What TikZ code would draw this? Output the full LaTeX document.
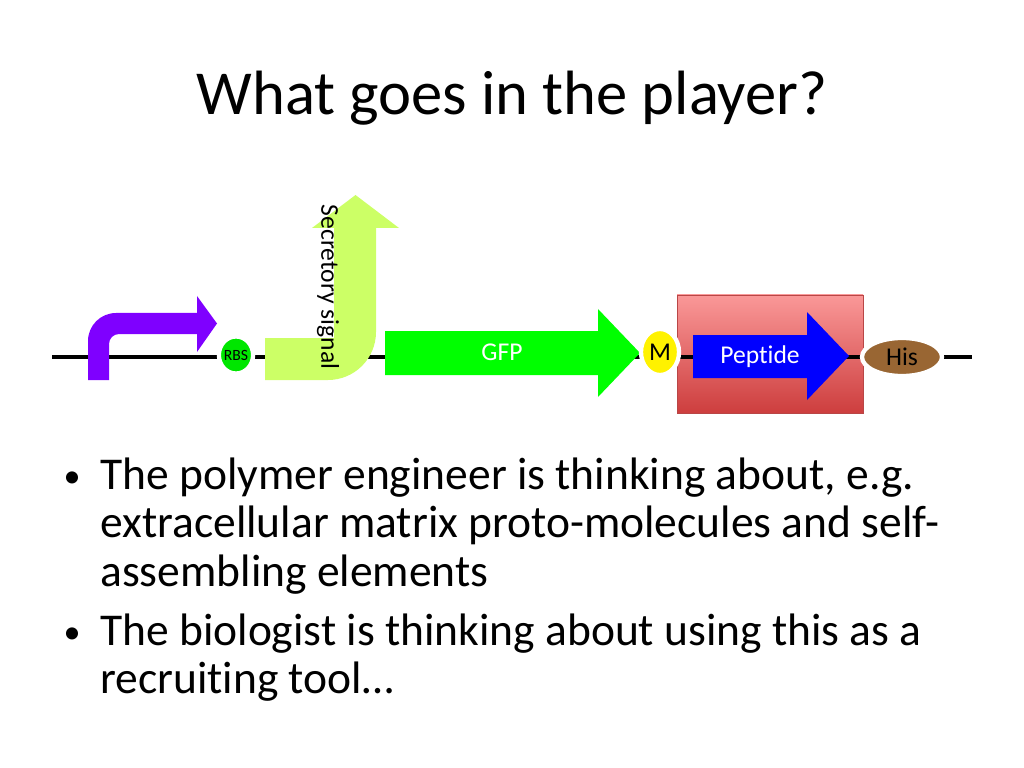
\documentclass[tikz,border=0pt]{standalone}
\usepackage{fontspec}
\setmainfont{Carlito}[Ligatures=NoCommon]
\usetikzlibrary{shapes.geometric}

\definecolor{promoterpurple}{RGB}{127,0,255}
\definecolor{rbsgreen}{RGB}{0,230,0}
\definecolor{signalgreen}{RGB}{204,255,102}
\definecolor{gfpgreen}{RGB}{0,255,0}
\definecolor{boxtop}{RGB}{250,152,152}
\definecolor{boxbottom}{RGB}{205,62,62}
\definecolor{boxedge}{RGB}{185,70,70}
\definecolor{hisbrown}{RGB}{153,102,51}

\tikzstyle{backbone} = [draw,line width=2.8pt,-]
\tikzstyle{partlabel} = [font=\fontsize{18}{18}\selectfont,inner sep=0pt]
\tikzstyle{partoval} = [shape=ellipse,draw=white,line width=3pt,inner sep=0pt]
\tikzstyle{tagbox} = [draw=boxedge,line width=0.5pt,top color=boxtop,bottom color=boxbottom,inner sep=0pt]
\tikzstyle{bullettext} = [anchor=base west,inner sep=0pt,font=\fontsize{32}{32}\selectfont]
\tikzstyle{bulletdot} = [anchor=base,inner sep=0pt,font=\fontsize{24}{24}\selectfont]

\begin{document}
\begin{tikzpicture}[x=0.703125pt,y=-0.703125pt]
  \useasboundingbox (0,0) rectangle (1024,768);
  % title
  \node[anchor=base,inner sep=0pt,font=\fontsize{44}{44}\selectfont] (title) at (512,115) {What goes in the player?};

  % box behind the peptide
  \node[tagbox,minimum width=186*0.703125pt,minimum height=118*0.703125pt] (tag) at (770,354) {};

  % backbone
  \coordinate (dnaL) at (52,357);
  \coordinate (dnaR) at (972,357);
  \path[backbone] (dnaL) -- (dnaR);

  % promoter
  \fill[promoterpurple] (88,380) -- (88,341) arc (180:270:28) -- (197,313) -- (197,296) -- (217,323.5)
    -- (197,352) -- (197,334) -- (119,334) arc (270:180:10) -- (109,380) -- cycle;

  % secretory signal
  \fill[signalgreen] (265,338) -- (334,338) -- (334,228) -- (312,228) -- (355.5,195) -- (399,228)
    -- (376,228) -- (376,332) arc (0:90:48) -- (265,380) -- cycle;
  \node[partlabel,rotate=-90] (signal) at (328,287) {Secretory signal};

  % GFP
  \fill[gfpgreen] (385,331) -- (598,331) -- (598,309) -- (640,353) -- (598,397) -- (598,375) -- (385,375) -- cycle;
  \node[partlabel,text=white] (gfp) at (502,352) {GFP};

  % peptide
  \fill[blue] (693,335) -- (807,335) -- (807,312) -- (849,356) -- (807,400) -- (807,378) -- (693,378) -- cycle;
  \node[partlabel,text=white] (peptide) at (760,357) {Peptide};

  % ovals
  \foreach \nodename/\lbl/\fs/\x/\y/\w/\h/\fillc in {
    rbs/RBS/11/236/355/31/37/rbsgreen,
    met/M/18/660/352/38/46/yellow,
    his/His/18/902/357/80/38/hisbrown}
  {
    \node[partoval,fill=\fillc,minimum width=\w*0.703125pt,minimum height=\h*0.703125pt,font=\fontsize{\fs}{\fs}\selectfont] (\nodename) at (\x,\y) {\lbl};
  }

  % bullets
  \node[bulletdot] (dot1) at (72,487) {•};
  \node[bullettext] (b1a) at (100,489) {The polymer engineer is thinking about, e.g.};
  \node[bullettext] (b1b) at (100,537) {extracellular matrix proto-molecules and self-};
  \node[bullettext] (b1c) at (100,586) {assembling elements};
  \node[bulletdot] (dot2) at (72,643) {•};
  \node[bullettext] (b2a) at (100,645) {The biologist is thinking about using this as a};
  \node[bullettext] (b2b) at (100,693) {recruiting tool…};
\end{tikzpicture}
\end{document}
